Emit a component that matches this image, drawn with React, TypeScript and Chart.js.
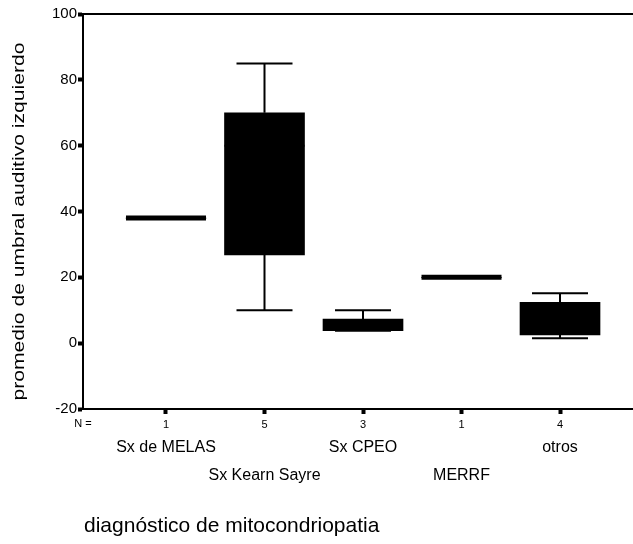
import React, { useEffect, useRef } from 'react';
import { Chart, registerables } from 'chart.js';

Chart.register(...registerables);

// ---- data ----
const categories = ['Sx de MELAS', 'Sx Kearn Sayre', 'Sx CPEO', 'MERRF', 'otros'];
const positions = [1, 2, 3, 4, 5];
const counts = [1, 5, 3, 1, 4];
const q1 = [38, 26.8, 3.8, 20, 2.5];
const q3 = [38, 70, 7.3, 20, 12.4];
const medians = [38, 60, 5, 20, 8];
const whiskerLow = [38, 10, 3.8, 20, 1.5];
const whiskerHigh = [38, 85, 10, 20, 15.2];
const yTicks = [-20, 0, 20, 40, 60, 80, 100];
const yTitle = 'promedio de umbral auditivo izquierdo';
const xTitle = 'diagnóstico de mitocondriopatia';
const nLabel = 'N =';

const FONT = '"Liberation Sans", Arial, sans-serif';

const boxExtras = {
  id: 'boxExtras',
  afterDatasetsDraw(chart: any) {
    const { ctx, chartArea, scales } = chart;
    const x = scales.x;
    const y = scales.y;
    ctx.save();
    ctx.strokeStyle = '#000';
    ctx.lineCap = 'butt';
    // top frame line
    ctx.lineWidth = 2;
    ctx.beginPath();
    ctx.moveTo(chartArea.left - 1, chartArea.top);
    ctx.lineTo(chartArea.right, chartArea.top);
    ctx.stroke();

    positions.forEach((p, i) => {
      const cx = x.getPixelForValue(p);
      if (counts[i] === 1) {
        ctx.lineWidth = 5;
        ctx.beginPath();
        ctx.moveTo(cx - 40, y.getPixelForValue(medians[i]));
        ctx.lineTo(cx + 40, y.getPixelForValue(medians[i]));
        ctx.stroke();
        return;
      }
      ctx.lineWidth = 2;
      const yHi = y.getPixelForValue(whiskerHigh[i]);
      const yLo = y.getPixelForValue(whiskerLow[i]);
      const yQ1 = y.getPixelForValue(q1[i]);
      const yQ3 = y.getPixelForValue(q3[i]);
      ctx.beginPath();
      ctx.moveTo(cx, yHi);
      ctx.lineTo(cx, yQ3);
      ctx.moveTo(cx, yQ1);
      ctx.lineTo(cx, yLo);
      ctx.moveTo(cx - 28, yHi);
      ctx.lineTo(cx + 28, yHi);
      ctx.moveTo(cx - 28, yLo);
      ctx.lineTo(cx + 28, yLo);
      ctx.stroke();
      ctx.beginPath();
      ctx.moveTo(cx - 40, y.getPixelForValue(medians[i]));
      ctx.lineTo(cx + 40, y.getPixelForValue(medians[i]));
      ctx.stroke();
    });
    ctx.restore();
  },
  afterDraw(chart: any) {
    const { ctx, chartArea, scales } = chart;
    const x = scales.x;
    ctx.save();
    ctx.fillStyle = '#000';
    // N = label
    ctx.font = `11px ${FONT}`;
    ctx.textAlign = 'center';
    ctx.textBaseline = 'alphabetic';
    ctx.fillText(nLabel, chartArea.left, x.top + 18);
    // category labels (staggered)
    ctx.font = `16px ${FONT}`;
    categories.forEach((c, i) => {
      const cx = x.getPixelForValue(positions[i]);
      ctx.fillText(c, cx, x.top + (i % 2 === 0 ? 43 : 71));
    });
    // x title
    ctx.font = `21px ${FONT}`;
    ctx.textAlign = 'left';
    ctx.fillText(xTitle, chartArea.left + 1, x.top + 123);
    // y title (stretched along text direction)
    ctx.font = `16px ${FONT}`;
    ctx.textAlign = 'center';
    ctx.textBaseline = 'middle';
    ctx.translate(20, (chartArea.top + chartArea.bottom) / 2 + 10);
    ctx.rotate(-Math.PI / 2);
    ctx.scale(1.32, 1);
    ctx.fillText(yTitle, 0, 0);
    ctx.restore();
  },
};

export default function App() {
  const ref = useRef<HTMLCanvasElement>(null);
  useEffect(() => {
    if (!ref.current) return;
    const chart = new Chart(ref.current, {
      type: 'bar',
      data: {
        datasets: [
          {
            data: positions.map((p, i) => ({ x: p, y: [q1[i], q3[i]] })) as any,
            backgroundColor: '#000',
            borderWidth: 0,
            barThickness: 80,
          },
        ],
      },
      options: {
        responsive: false,
        animation: false,
        layout: { padding: { top: 14, left: 0, right: 0, bottom: 0 } },
        plugins: { legend: { display: false }, tooltip: { enabled: false } },
        scales: {
          x: {
            type: 'linear',
            offset: false,
            min: 0.1574,
            max: 5.741,
            afterBuildTicks: (s: any) => {
              s.ticks = positions.map((v) => ({ value: v }));
            },
            afterFit: (s: any) => {
              s.height = 135;
            },
            ticks: {
              color: '#000',
              font: { family: FONT, size: 11 },
              padding: 4,
              maxRotation: 0,
              autoSkip: false,
              callback: (v: any) => {
                const i = positions.indexOf(Number(v));
                return i >= 0 ? String(counts[i]) : '';
              },
            },
            grid: {
              offset: false,
              drawOnChartArea: false,
              drawTicks: true,
              tickLength: 5,
              tickWidth: 4,
              tickColor: '#000',
            },
            border: { display: true, color: '#000', width: 2 },
          },
          y: {
            type: 'linear',
            min: -20,
            max: 100,
            afterBuildTicks: (s: any) => {
              s.ticks = yTicks.map((v) => ({ value: v }));
            },
            afterFit: (s: any) => {
              s.width = 83;
            },
            ticks: {
              color: '#000',
              font: { family: FONT, size: 15 },
              padding: 1,
            },
            grid: {
              drawOnChartArea: false,
              drawTicks: true,
              tickLength: 5,
              tickWidth: 4,
              tickColor: '#000',
            },
            border: { display: true, color: '#000', width: 2 },
          },
        },
      },
      plugins: [boxExtras],
    });
    return () => chart.destroy();
  }, []);
  return (
    <div style={{ position: 'fixed', left: 0, top: 0, width: 633, height: 544, background: '#fff' }}>
      <canvas ref={ref} width={633} height={544} style={{ width: 633, height: 544, display: 'block' }} />
    </div>
  );
}
